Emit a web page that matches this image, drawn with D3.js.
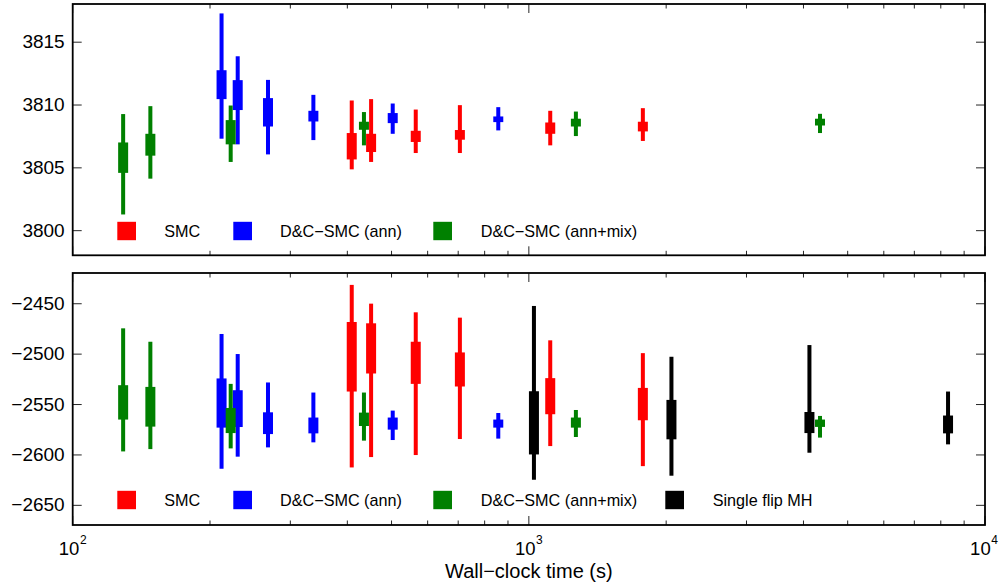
<!DOCTYPE html>
<html>
<head>
<meta charset="utf-8">
<script src="https://cdn.jsdelivr.net/npm/d3@7"></script>
<style>
  body { margin: 0; background: #fff; }
  svg { font-family: 'Liberation Sans', Arial, sans-serif; }
</style>
</head>
<body>
<div id="chartEl"></div>
<script>
// wall-clock times (s) per method
const smcTimes = [409, 451, 565, 706, 1114, 1778];
const annTimes = [212, 230, 268, 337, 503, 857];
const mixTimes = [129, 148, 222, 435, 1268, 4348];
const mhTimes = [1026, 2054, 4122, 8298];

// [whisker low, box low, box high, whisker high]
const smcTop = [[3804.84, 3805.63, 3807.73, 3810.32], [3805.43, 3806.22, 3807.67, 3810.43], [3806.14, 3807.02, 3807.91, 3809.60],
  [3806.14, 3807.20, 3807.97, 3809.95], [3806.75, 3807.67, 3808.57, 3809.50], [3807.10, 3807.86, 3808.63, 3809.71]];
const annTop = [[3807.28, 3810.43, 3812.73, 3817.25], [3806.83, 3809.56, 3811.94, 3813.84], [3806.03, 3808.25, 3810.51, 3811.96],
  [3807.17, 3808.65, 3809.50, 3810.77], [3807.67, 3808.52, 3809.32, 3810.08], [3807.94, 3808.60, 3809.05, 3809.79]];
const mixTop = [[3801.25, 3804.56, 3806.98, 3809.24], [3804.10, 3805.93, 3807.67, 3809.87], [3805.43, 3806.83, 3808.76, 3809.92],
  [3806.75, 3807.99, 3808.63, 3809.40], [3807.49, 3808.25, 3808.87, 3809.44], [3807.73, 3808.33, 3808.87, 3809.26]];

const smcBot = [[-2612.9, -2537.6, -2468.6, -2431.8], [-2602.6, -2519.7, -2469.9, -2450.4], [-2600.6, -2530.0, -2488.2, -2459.0],
  [-2584.7, -2532.6, -2498.8, -2464.3], [-2591.7, -2560.1, -2524.3, -2486.8], [-2611.6, -2566.1, -2534.0, -2499.5]];
const annBot = [[-2614.2, -2573.4, -2524.6, -2480.5], [-2602.2, -2572.8, -2536.3, -2500.4], [-2593.0, -2579.8, -2558.2, -2528.6],
  [-2588.0, -2579.1, -2563.4, -2538.6], [-2585.7, -2575.4, -2563.4, -2556.5], [-2584.3, -2573.4, -2565.4, -2558.9]];
const mixBot = [[-2597.0, -2565.4, -2531.3, -2474.9], [-2594.7, -2572.4, -2533.0, -2488.2], [-2594.0, -2578.8, -2553.9, -2530.0],
  [-2586.3, -2571.8, -2558.5, -2538.6], [-2582.7, -2573.4, -2563.4, -2555.9], [-2583.3, -2572.7, -2565.4, -2561.8]];
const mhBot = [[-2625.1, -2600.0, -2537.3, -2452.7], [-2621.1, -2585.0, -2545.9, -2503.1], [-2598.3, -2578.8, -2557.9, -2491.5],
  [-2590.0, -2579.1, -2561.4, -2537.6]];

const topTicks = [3800, 3805, 3810, 3815];
const botTicks = [-2650, -2600, -2550, -2500, -2450];
const xMajor = [100, 1000, 10000];
const names = ['SMC', 'D&C\u2212SMC (ann)', 'D&C\u2212SMC (ann+mix)', 'Single flip MH'];
const colors = ['#ff0000', '#0000ff', '#008000', '#000000'];

const width = 1000;
const height = 583;
const left = 72.7, right = 985;

const svg = d3.select('#chartEl').append('svg')
  .attr('width', width)
  .attr('height', height);

const x = d3.scaleLog().domain([100, 10000]).range([left, right]);

function panel (top, bottom, domain, ticks, series, legendY) {
  const y = d3.scaleLinear().domain(domain).range([bottom, top]);
  const g = svg.append('g');

  // boxes
  series.forEach(s => {
    const grp = g.append('g');
    grp.selectAll('.wh')
      .data(s.stats)
      .enter().append('rect')
      .attr('x', (d, i) => x(s.times[i]) - 2)
      .attr('width', 4)
      .attr('y', d => y(d[3]))
      .attr('height', d => y(d[0]) - y(d[3]))
      .attr('fill', s.color);
    grp.selectAll('.bx')
      .data(s.stats)
      .enter().append('rect')
      .attr('x', (d, i) => x(s.times[i]) - 5)
      .attr('width', 10)
      .attr('y', d => y(d[2]))
      .attr('height', d => y(d[1]) - y(d[2]))
      .attr('fill', s.color);
  });

  // y axis (inward ticks) on both sides
  g.append('g')
    .attr('transform', 'translate(' + left + ',0)')
    .call(d3.axisLeft(y).tickValues(ticks).tickFormat(d3.format('d')).tickSizeInner(-9).tickSizeOuter(0).tickPadding(8))
    .call(a => a.select('.domain').remove())
    .call(a => a.selectAll('text').attr('font-size', 19).attr('fill', '#000'))
    .call(a => a.selectAll('line').attr('stroke', '#262626'));
  g.append('g')
    .attr('transform', 'translate(' + right + ',0)')
    .call(d3.axisRight(y).tickValues(ticks).tickSizeInner(-9).tickSizeOuter(0).tickFormat(''))
    .call(a => a.select('.domain').remove())
    .call(a => a.selectAll('line').attr('stroke', '#262626'));

  // x ticks, major and minor, top and bottom
  const xt = x.ticks();
  [bottom, top].forEach((yy, k) => {
    g.selectAll('.xt' + k)
      .data(xt)
      .enter().append('line')
      .attr('x1', d => x(d))
      .attr('x2', d => x(d))
      .attr('y1', yy)
      .attr('y2', d => yy + (k === 0 ? -1 : 1) * (xMajor.includes(d) ? 9 : 4.5))
      .attr('stroke', '#262626')
      .attr('stroke-width', 1);
  });

  g.append('rect')
    .attr('x', left)
    .attr('y', top)
    .attr('width', right - left)
    .attr('height', bottom - top)
    .attr('fill', 'none')
    .attr('stroke', '#000')
    .attr('stroke-width', 1.8);

  // legend
  const lx = [117.3, 233.3, 433.3, 665.3];
  const tx = [164.3, 280, 480.7, 712.7];
  series.forEach((s, i) => {
    g.append('rect')
      .attr('x', lx[i])
      .attr('y', legendY - 9.2)
      .attr('width', 18.7)
      .attr('height', 18.4)
      .attr('fill', s.color);
    g.append('text')
      .attr('x', tx[i])
      .attr('y', legendY)
      .attr('dy', '0.35em')
      .attr('font-size', 16.2)
      .attr('fill', '#000')
      .text(s.name);
  });
  return y;
}

panel(4, 255.3, [3798, 3818], topTicks, [
  {times: smcTimes, stats: smcTop, color: colors[0], name: names[0]},
  {times: annTimes, stats: annTop, color: colors[1], name: names[1]},
  {times: mixTimes, stats: mixTop, color: colors[2], name: names[2]}
], 231);

panel(273, 525, [-2670, -2420], botTicks, [
  {times: smcTimes, stats: smcBot, color: colors[0], name: names[0]},
  {times: annTimes, stats: annBot, color: colors[1], name: names[1]},
  {times: mixTimes, stats: mixBot, color: colors[2], name: names[2]},
  {times: mhTimes, stats: mhBot, color: colors[3], name: names[3]}
], 500);

// x tick labels 10^n
const lab = svg.selectAll('.xl')
  .data(xMajor)
  .enter().append('text')
  .attr('x', d => Math.min(x(d), 984))
  .attr('y', 555)
  .attr('text-anchor', 'middle')
  .attr('font-size', 18.5)
  .attr('fill', '#000');
lab.append('tspan').text('10');
lab.append('tspan')
  .attr('dy', -11)
  .attr('dx', 0.5)
  .attr('font-size', 12)
  .text(d => Math.round(Math.log10(d)));

svg.append('text')
  .attr('x', (left + right) / 2)
  .attr('y', 578)
  .attr('text-anchor', 'middle')
  .attr('font-size', 20)
  .attr('fill', '#000')
  .text('Wall\u2212clock time (s)');
</script>
</body>
</html>
